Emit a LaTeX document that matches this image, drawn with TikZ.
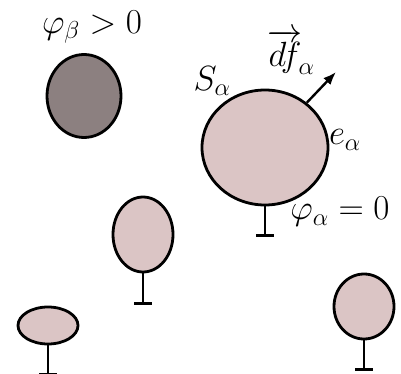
\RequirePackage{fix-cm}
\documentclass[tikz,border=0pt]{standalone}
\usetikzlibrary{shapes.geometric,arrows.meta}
\definecolor{grainpink}{RGB}{219,197,197}
\definecolor{graindark}{RGB}{140,128,128}
\tikzset{
  grain/.style={ellipse, draw, line width=2.8pt, fill=grainpink, inner sep=0pt},
  lbl/.style={font=\fontsize{35}{37}\selectfont, inner sep=0pt},
}
\begin{document}
\begin{tikzpicture}[x=1pt,y=-1pt,line width=2.8pt]
\useasboundingbox (0,0) rectangle (401,374);

\node[grain, fill=graindark, minimum width=74pt, minimum height=83pt] (gb) at (84,96) {};
\node[grain, minimum width=126pt, minimum height=115pt] (ga) at (265,147.5) {};
\node[grain, minimum width=60pt, minimum height=75pt] (g1) at (143,234.5) {};
\node[grain, minimum width=60pt, minimum height=37pt] (g2) at (48,325.5) {};
\node[grain, minimum width=60pt, minimum height=65pt] (g3) at (364,306.5) {};

% grounded grains
\draw (ga.south) -- ++(0,29) coordinate (ea);
\draw (ea) ++(-9,0) -- ++(18,0);
\draw (g1.south) -- ++(0,30) coordinate (e1);
\draw (e1) ++(-9,0) -- ++(18,0);
\draw (g2.south) -- ++(0,29) coordinate (e2);
\draw (e2) ++(-9,0) -- ++(18,0);
\draw (g3.south) -- ++(0,29) coordinate (e3);
\draw (e3) ++(-9,0) -- ++(18,0);

\coordinate (tip) at (336,72);
\draw[-{Latex[length=13pt,width=10pt]}, line width=2.4pt] (ga.47) -- (tip);

\node[lbl] (phib) at (92,27) {$\varphi_\beta > 0$};
\node[lbl] (Sa) at (212,81) {$S_\alpha$};
\node[lbl] (dfa) at (291,52) {$\overrightarrow{df}_{\!\alpha}$};
\node[lbl] (ealpha) at (345,140) {$e_\alpha$};
\node[lbl] (phia) at (340,212) {$\varphi_\alpha = 0$};
\end{tikzpicture}
\end{document}
